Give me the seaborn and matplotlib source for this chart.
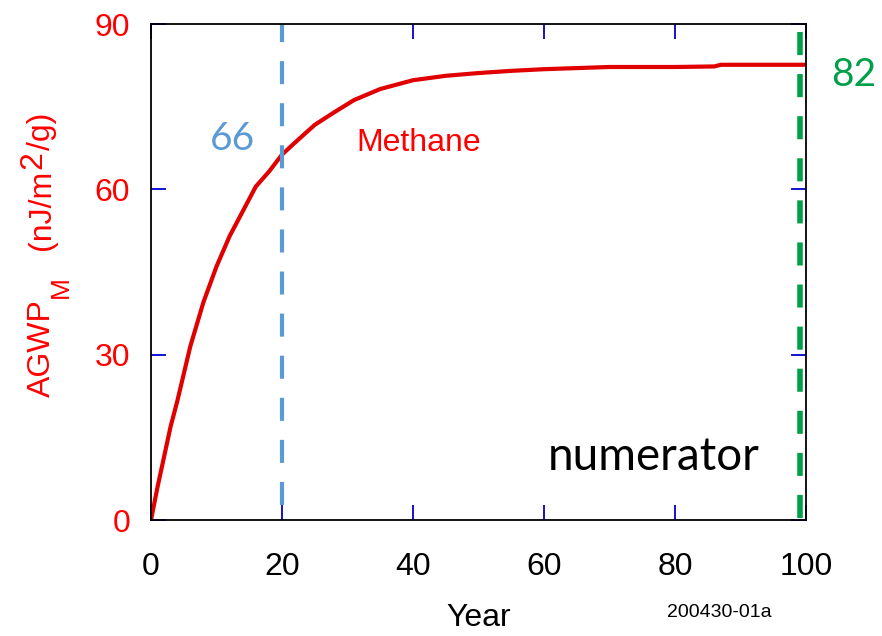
import matplotlib
matplotlib.use("Agg")
import matplotlib.pyplot as plt
import seaborn as sns
import pandas as pd

# ---- data ----
years = [0, 1, 2, 3, 4, 5, 6, 7, 8, 10, 12, 14, 16, 18, 20, 22, 25, 28, 31,
         35, 40, 45, 50, 55, 60, 65, 70, 80, 86, 87, 100]
agwp = [0, 6, 11.5, 17, 21.5, 26.5, 31.5, 35.5, 39.5, 46, 51.5, 56, 60.5, 63.2,
        66.3, 68.5, 71.7, 74, 76.2, 78.2, 79.8, 80.6, 81.1, 81.5, 81.8, 82.0,
        82.2, 82.2, 82.3, 82.6, 82.6]
x_ticks = [0, 20, 40, 60, 80, 100]
y_ticks = [0, 30, 60, 90]
marker_years = [20, 99.1]
marker_labels = ["66", "82"]

sns.set_theme(style="white")
plt.rcParams['font.family'] = ['Liberation Sans', 'DejaVu Sans']

W, H = 882, 636
df = pd.DataFrame({"Year": years, "AGWP": agwp})

fig = plt.figure(figsize=(W/100, H/100), dpi=100)
ax = fig.add_axes([151/W, 1-520/H, 655/W, 496/H])

sns.lineplot(data=df, x="Year", y="AGWP", ax=ax, color="#E00000", linewidth=3)

lw_b = 3.0
l1 = ax.axvline(marker_years[0], color="#5B9BD5", linewidth=lw_b, ymin=0.03, ymax=1.0)
l1.set_dashes((16.6/lw_b, 13.7/lw_b))
lw_g = 4.0
l2 = ax.axvline(marker_years[1], color="#00A04A", linewidth=lw_g, ymin=0.005, ymax=0.985)
l2.set_dashes((16.6/lw_g, 13.7/lw_g))

ax.set_xlim(0, 100)
ax.set_ylim(0, 90)
ax.set_xticks(x_ticks)
ax.set_yticks(y_ticks)
ax.tick_params(direction="in", length=11, width=1.3, color="#0000CC",
               top=True, right=True, labelsize=23, bottom=True, left=True)
ax.tick_params(axis="x", pad=23, labelcolor="black")
ax.tick_params(axis="y", pad=15, labelcolor="#FF0000")
for s in ax.spines.values():
    s.set_color("black")
    s.set_linewidth(1.3)
    s.set_visible(True)

ax.set_xlabel("Year", fontsize=23, color="black", labelpad=15)
ax.set_ylabel("")

# y label built from pieces (full-size lowered subscript / raised superscript)
fig.canvas.draw()
renderer = fig.canvas.get_renderer()

def piece(txt, xb, ystart, size):
    t = fig.text(xb/W, 1-ystart/H, txt, fontsize=size, color="#FF0000",
                 rotation=90, rotation_mode="anchor", ha="left", va="baseline")
    bb = t.get_window_extent(renderer)
    return ystart - bb.height

end = piece("AGWP", 50, 397, 23)
piece("M", 68, end - 1, 19)
end = piece("(nJ/m", 50, 250, 23)
end = piece("2", 41, end - 1, 23)
piece("/g)", 50, end - 1, 23)

ax.text(12.5, 67.1, marker_labels[0], fontsize=28, color="#5B9BD5",
        family=["Lato", "DejaVu Sans"], ha="center", va="baseline")
ax.text(107.3, 78.8, marker_labels[1], fontsize=28, color="#00A04A",
        family=["Lato", "DejaVu Sans"], ha="center", va="baseline", clip_on=False)
ax.text(40.9, 67.0, "Methane", fontsize=23, color="#FF0000", ha="center",
        va="baseline")
ax.text(76.8, 9.1, "numerator", fontsize=33, color="black",
        family=["Lato", "DejaVu Sans"], ha="center", va="baseline")
fig.text(719/W, 1-617/H, "200430-01a", fontsize=14, color="black",
         ha="center", va="baseline")

fig.savefig("out.png", dpi=100)
